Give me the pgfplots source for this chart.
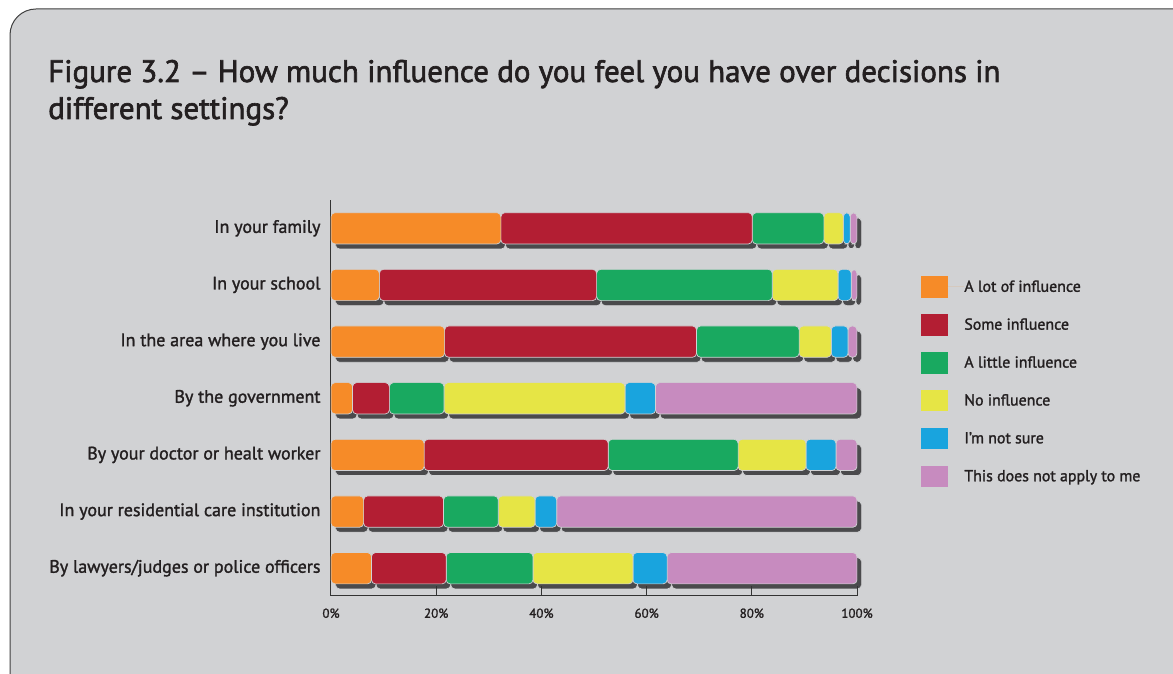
\documentclass[border=0pt]{standalone}
\usepackage{pgfplots}
\pgfplotsset{compat=1.18}
\usepackage{pgfplotstable}
\usepackage{fontspec}
\setmainfont{PT Sans}
\newfontfamily\titlefont[FakeBold=2]{PT Sans}
\newfontfamily\labfont[FakeBold=1.5]{PT Sans}
\definecolor{bg}{HTML}{D1D2D4}
\definecolor{txt}{HTML}{231F20}
\definecolor{shad}{HTML}{4A4A4C}
\definecolor{cOr}{HTML}{F68B28}
\definecolor{cRe}{HTML}{B31E33}
\definecolor{cGr}{HTML}{19A960}
\definecolor{cYe}{HTML}{E6E545}
\definecolor{cBl}{HTML}{19A4DE}
\definecolor{cPu}{HTML}{C78BBF}

\pgfplotstableread{
y a b c d e f
0 7.7 14.2 16.5 19.0 6.5 36.1
1 6.2 15.2 10.4 7.0 4.1 57.1
2 17.7 35.0 24.7 12.9 5.7 4.0
3 4.1 7.0 10.4 34.4 5.8 38.3
4 21.6 47.9 19.5 6.1 3.2 1.7
5 9.2 41.3 33.4 12.5 2.5 1.1
6 32.3 47.8 13.6 3.7 1.3 1.3
}\datatable

\pgfplotsset{
  base/.style={
    scale only axis, width=526pt, height=396pt,
    xmin=0, xmax=100, ymin=-0.49, ymax=6.5,
    xbar stacked, bar width=31.3pt,
    every axis plot/.append style={rounded corners=4pt, draw=bg, line width=0.7pt},
  }
}

\begin{document}
\begin{tikzpicture}
\useasboundingbox (0pt,0pt) rectangle (1173pt,674pt);
\fill[white] (0pt,0pt) rectangle (1173pt,674pt);
\begin{scope}
\clip (0pt,0pt) rectangle (1173pt,674pt);
\draw[fill=bg, draw=black!75, line width=1pt, rounded corners=26pt] (10pt,-30pt) rectangle (1200pt,665pt);
\end{scope}

\node[anchor=base west, text=txt, font=\titlefont\fontsize{31}{36}\selectfont, inner sep=0pt] at (48pt,592pt) {Figure 3.2 – How much influence do you feel you have over decisions in};
\node[anchor=base west, text=txt, font=\titlefont\fontsize{31}{36}\selectfont, inner sep=0pt] at (48pt,555pt) {different settings?};

% shadow axis
\begin{axis}[base, at={(335.5pt,73pt)}, anchor=south west, hide axis]
\addplot[fill=shad] table[x=a,y=y] \datatable;
\addplot[fill=shad] table[x=b,y=y] \datatable;
\addplot[fill=shad] table[x=c,y=y] \datatable;
\addplot[fill=shad] table[x=d,y=y] \datatable;
\addplot[fill=shad] table[x=e,y=y] \datatable;
\addplot[fill=shad] table[x=f,y=y] \datatable;
\end{axis}

% main axis
\begin{axis}[base, at={(331pt,78pt)}, anchor=south west,
  axis x line*=bottom, axis y line*=left,
  axis line style={-, draw=black!80, line width=1pt},
  xtick={0,20,40,60,80,100},
  xticklabel={\pgfmathprintnumber[assume math mode=true]{\tick}\%},
  tick align=inside,
  major tick length=10pt,
  xtick style={draw=black!80, line width=1pt},
  ytick={0,1,2,3,4,5,6},
  yticklabels={By lawyers/judges or police officers, In your residential care institution, By your doctor or healt worker, By the government, In the area where you live, In your school, In your family},
  ytick style={draw=none},
  xticklabel style={font=\labfont\fontsize{13}{15}\selectfont, text=txt, yshift=-9pt},
  yticklabel style={font=\labfont\fontsize{18}{20}\selectfont, text=txt, xshift=-7pt},
  legend style={draw=none, fill=none, at={(1.1217,0.808)}, anchor=north west,
    inner sep=0pt, outer sep=0pt, row sep=16.2pt, column sep=0pt,
    font=\labfont\fontsize{15.9}{18}\selectfont, text=txt,
    nodes={inner sep=0pt, outer sep=0pt}},
  legend cell align=left,
  legend image code/.code={\path[#1, draw=none, rounded corners=0pt] (0pt,-10.85pt) rectangle (26.7pt,10.85pt); \path (26.7pt,0pt) -- (43pt,0pt);},
]
\addplot[fill=cOr] table[x=a,y=y] \datatable;
\addplot[fill=cRe] table[x=b,y=y] \datatable;
\addplot[fill=cGr] table[x=c,y=y] \datatable;
\addplot[fill=cYe] table[x=d,y=y] \datatable;
\addplot[fill=cBl] table[x=e,y=y] \datatable;
\addplot[fill=cPu] table[x=f,y=y] \datatable;
\legend{A lot of influence, Some influence, A little influence, No influence, I’m not sure, This does not apply to me}
\end{axis}
\end{tikzpicture}
\end{document}
